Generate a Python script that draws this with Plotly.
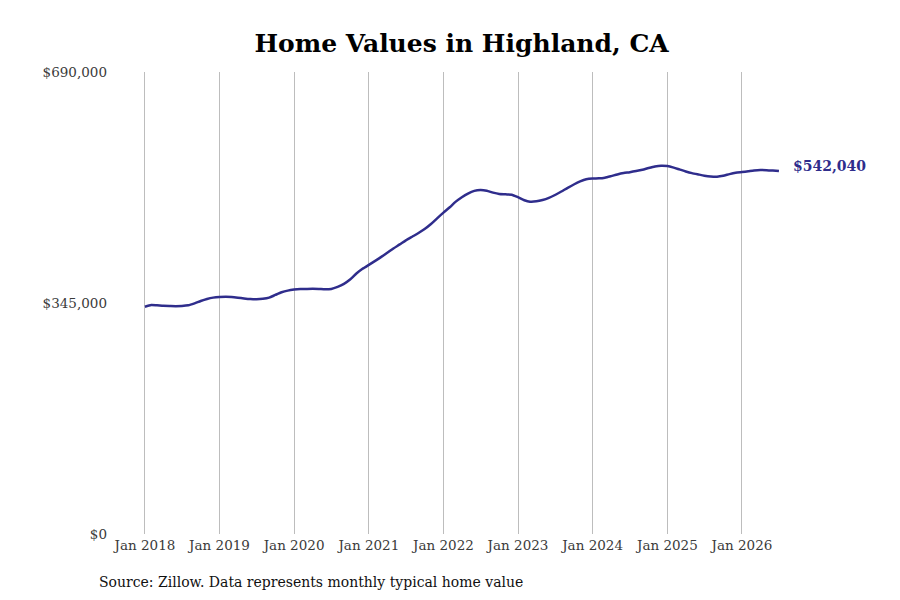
import pandas as pd
import plotly.graph_objects as go

title_text = "Home Values in Highland, CA"
source_text = "Source: Zillow. Data represents monthly typical home value"

start_month = "2018-01-01"
home_values = [
    339500, 342000, 341500, 340800, 340500, 340300, 340500, 341500, 344500, 348000, 351000, 353000,
    354000, 354400, 354000, 353000, 351800, 350800, 350500, 351200, 353000, 357000, 361000, 363500,
    365000, 365800, 366000, 366200, 366000, 365500, 366000, 369000, 373500, 380000, 389000, 396000,
    402000, 408000, 413500, 420000, 426500, 432500, 438500, 444000, 449500, 455500, 463000, 471500,
    480000, 488000, 496000, 503000, 508500, 512500, 513800, 512700, 509800, 507800, 507300, 506800,
    503000, 498500, 496300, 496800, 498800, 502000, 506300, 511500, 517000, 522000, 526500, 529800,
    531000, 531200, 532200, 534500, 537000, 539000, 540300, 542000, 544000, 546500, 548800, 550000,
    549500, 547200, 544500, 541500, 539000, 537000, 535200, 534000, 533700, 535000, 537500, 539500,
    540600, 541800, 542900, 543600, 543400, 542800, 542040,
]
dates = pd.date_range(start_month, periods=len(home_values), freq="MS")

x_tick_vals = pd.date_range("2018-01-01", "2026-01-01", freq="YS")
x_tick_text = [d.strftime("Jan %Y") for d in x_tick_vals]
y_tick_vals = [0, 345000, 690000]
y_tick_text = ["$0", "$345,000", "$690,000"]

line_color = "#2f2d8c"
font_family = "DejaVu Serif"

fig = go.Figure()
fig.add_trace(go.Scatter(
    x=dates, y=home_values, mode="lines",
    line=dict(color=line_color, width=2.5, shape="spline", smoothing=0.6),
    hoverinfo="skip", showlegend=False,
))

fig.add_annotation(
    x=dates[-1], y=home_values[-1], xref="x", yref="y",
    text=f"<b>${home_values[-1]:,}</b>", showarrow=False,
    xanchor="left", xshift=12, yshift=5,
    font=dict(family=font_family, size=14, color=line_color),
)
fig.add_annotation(
    x=-0.020, y=-0.104, xref="paper", yref="paper",
    text=source_text, showarrow=False, xanchor="left", yanchor="middle",
    font=dict(family=font_family, size=14, color="#111111"),
)

fig.update_layout(
    width=900, height=600,
    paper_bgcolor="white", plot_bgcolor="white",
    margin=dict(l=103, r=117, t=64, b=74),
    title=dict(text=f"<b>{title_text}</b>", x=0.504, xanchor="center",
               y=0.942, yanchor="middle",
               font=dict(family=font_family, size=25, color="#000000")),
    xaxis=dict(
        range=["2017-07-19", "2026-08-29"],
        tickvals=list(x_tick_vals), ticktext=x_tick_text,
        showgrid=True, gridcolor="#bdbdbd", gridwidth=1,
        showline=False, zeroline=False, ticks="",
        ticklabelstandoff=1,
        tickfont=dict(family=font_family, size=13.5, color="#3a3a3a"),
    ),
    yaxis=dict(
        range=[0, 690000],
        tickvals=y_tick_vals, ticktext=y_tick_text,
        showgrid=False, zeroline=False, showline=False, ticks="",
        ticklabelstandoff=3,
        tickfont=dict(family=font_family, size=13.5, color="#3a3a3a"),
    ),
)

fig.write_html("out.html")
